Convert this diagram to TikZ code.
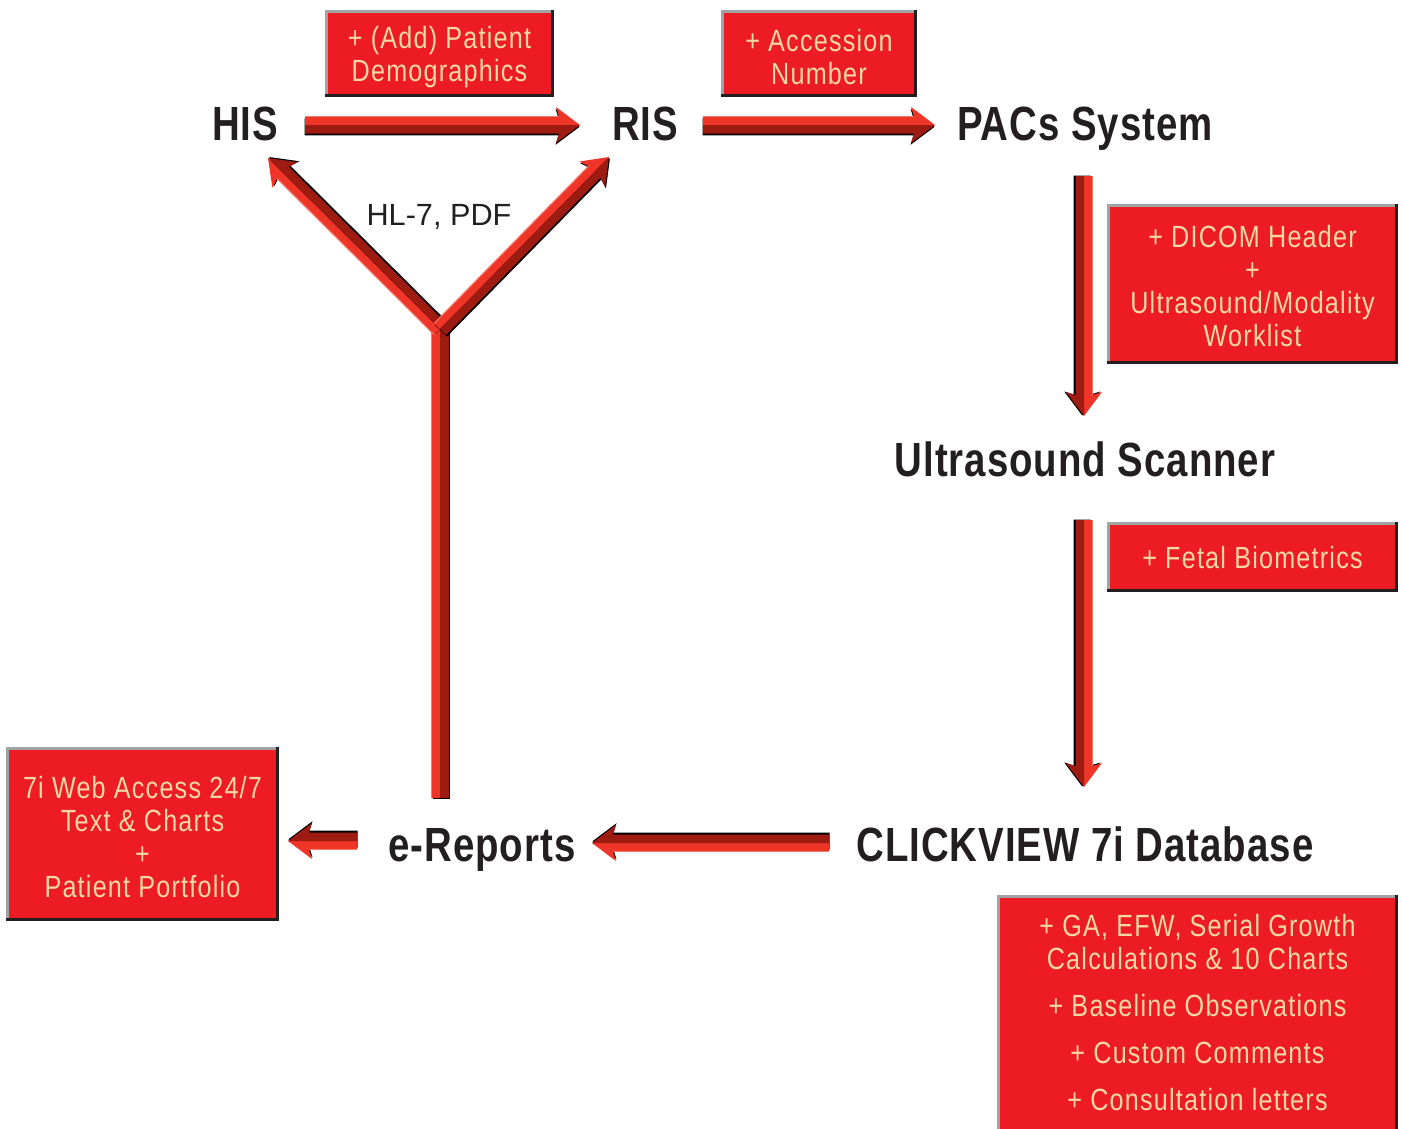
\documentclass[tikz,border=0pt]{standalone}
\usepackage{fontspec}
\setmainfont{Liberation Sans}
\newfontfamily\condfont[FakeStretch=0.82,LetterSpace=4]{Liberation Sans}
\newfontfamily\condtitle[FakeStretch=0.8,LetterSpace=2]{Liberation Sans}
\definecolor{boxred}{HTML}{ED1C24}
\definecolor{cream}{HTML}{F4D8A4}
\definecolor{alight}{HTML}{EE3527}
\definecolor{adark}{HTML}{9E1B12}
\definecolor{ahigh}{HTML}{F37A68}
\definecolor{ink}{HTML}{231F20}
\definecolor{bgray}{HTML}{A0A2A4}
\definecolor{bdark}{HTML}{231F20}

% 3D arrow with head, from coordinate #1 to coordinate #2
\newcommand\tdarrow[2]{%
  \path (#1); \pgfgetlastxy{\arax}{\aray}%
  \path (#2); \pgfgetlastxy{\arbx}{\arby}%
  \pgfmathsetmacro\arang{atan2(\arby-\aray,\arbx-\arax)}%
  \pgfmathsetmacro\arlen{veclen(\arbx-\arax,\arby-\aray)/0.75}%
  \pgfmathsetmacro\arb{\arlen-24}%
  \pgfmathsetmacro\arc{\arlen-21}%
  \begin{scope}[shift={(#1)},rotate=\arang,x=0.75pt,y=0.75pt]
    \fill[black] (-0.5,6.7) -- (\arc-0.5,6.7) -- (\arb-0.5,16.2) -- (\arlen-0.5,-1.8)
      -- (\arb-0.5,-19.8) -- (\arc-0.5,-10.3) -- (-0.5,-10.3) -- cycle;
    \fill[alight] (0,0) -- (0,8.5) -- (\arc,8.5) -- (\arb,18) -- (\arlen,0) -- cycle;
    \fill[adark] (0,0) -- (0,-8.5) -- (\arc,-8.5) -- (\arb,-18) -- (\arlen,0) -- cycle;
    \draw[ahigh,line width=0.75pt] (0,8.1) -- (\arc,8.1);
  \end{scope}}
% 3D shaft without head
\newcommand\tdshaft[2]{%
  \path (#1); \pgfgetlastxy{\arax}{\aray}%
  \path (#2); \pgfgetlastxy{\arbx}{\arby}%
  \pgfmathsetmacro\arang{atan2(\arby-\aray,\arbx-\arax)}%
  \pgfmathsetmacro\arlen{veclen(\arbx-\arax,\arby-\aray)/0.75}%
  \begin{scope}[shift={(#1)},rotate=\arang,x=0.75pt,y=0.75pt]
    \fill[black] (-0.5,6.7) rectangle (\arlen-0.5,-10.3);
    \fill[alight] (0,0) rectangle (\arlen,8.5);
    \fill[adark] (0,0) rectangle (\arlen,-8.5);
    \draw[ahigh,line width=0.75pt] (0,8.1) -- (\arlen,8.1);
  \end{scope}}
% bevelled border of a red box
\newcommand\bevel[1]{%
  \draw[bgray,line width=2.25pt] ([xshift=1.125pt]#1.south west)
    -- ([xshift=1.125pt,yshift=-1.125pt]#1.north west) -- ([yshift=-1.125pt]#1.north east);
  \draw[bdark,line width=2.25pt] ([xshift=-1.125pt]#1.north east)
    -- ([xshift=-1.125pt,yshift=1.125pt]#1.south east) -- ([yshift=1.125pt]#1.south west);}

\begin{document}
\begin{tikzpicture}[x=0.75pt,y=-0.75pt,
  title/.style={font=\condtitle\bfseries\fontsize{36}{40}\selectfont, text=ink, inner sep=0pt, anchor=base},
  redbox/.style={fill=boxred, inner sep=0pt},
  boxtext/.style={inner sep=0pt, text=cream, align=center,
    font=\condfont\fontsize{23}{24.75}\selectfont},
  bsize/.style 2 args={minimum width={#1*0.75pt}, minimum height={#2*0.75pt}}]
\useasboundingbox (0,0) rectangle (1402,1128);
\clip (0,0) rectangle (1402,1128);

% titles
\node[title] (his)  at (245,140)  {HIS};
\node[title] (ris)  at (645,140)  {RIS};
\node[title] (pacs) at (1085,140) {PACs System};
\node[title] (us)   at (1085,476) {Ultrasound Scanner};
\node[title] (cv)   at (1085,861) {CLICKVIEW 7i Database};
\node[title] (erep) at (482,861)  {e-Reports};
\node[font=\fontsize{23}{27}\selectfont, text=ink, inner sep=0pt] (hl7) at (439,217) {HL-7, PDF};

% boxes
\node[redbox, bsize={229}{87}] (bdemo) at (439.5,53.5) {};
\bevel{bdemo}
\node[boxtext] (tdemo) at (439.5,57) {+ (Add) Patient\\Demographics};
\node[redbox, bsize={196}{87}] (bacc) at (819,53.5) {};
\bevel{bacc}
\node[boxtext] (tacc) at (819,57) {+ Accession\\Number};
\node[redbox, bsize={291}{160}] (bdicom) at (1252.5,284) {};
\bevel{bdicom}
\node[boxtext] (tdicom) at (1252.5,286) {+ DICOM Header\\+\\Ultrasound/Modality\\Worklist};
\node[redbox, bsize={291}{70}] (bfetal) at (1252.5,557) {};
\bevel{bfetal}
\node[boxtext] (tfetal) at (1252.5,558) {+ Fetal Biometrics};
\node[redbox, bsize={273}{174}] (bweb) at (142.5,834) {};
\bevel{bweb}
\node[boxtext] (tweb) at (142.5,837) {7i Web Access 24/7\\Text \& Charts\\+\\Patient Portfolio};
\node[redbox, bsize={401}{245}] (bga) at (1197.5,1017.5) {};
\bevel{bga}
\node[boxtext] (tga) at (1197.5,1012.5) {+ GA, EFW, Serial Growth\\Calculations \& 10 Charts\\[10.5pt]+ Baseline Observations\\[10.5pt]+ Custom Comments\\[10.5pt]+ Consultation letters};

% arrow end points
\coordinate (a1s) at (305,125);  \coordinate (a1e) at (580,125);
\coordinate (a2s) at (703,125);  \coordinate (a2e) at (935,125);
\coordinate (a3s) at (1084,176); \coordinate (a3e) at (1084,416);
\coordinate (a4s) at (1084,520); \coordinate (a4e) at (1084,787);
\coordinate (a5s) at (829,843);  \coordinate (a5e) at (592,843);
\coordinate (a6s) at (357,841);  \coordinate (a6e) at (288,841);
\coordinate (ys) at (440,798);   \coordinate (yt) at (440,326);
\coordinate (yj) at (440,329);
\coordinate (yl) at (268,158);   \coordinate (yr) at (609,157);

\tdarrow{a1s}{a1e}
\tdarrow{a2s}{a2e}
\tdarrow{a3s}{a3e}
\tdarrow{a4s}{a4e}
\tdarrow{a5s}{a5e}
\tdarrow{a6s}{a6e}
\tdshaft{ys}{yt}
\tdarrow{yj}{yl}
\tdarrow{yj}{yr}
\end{tikzpicture}
\end{document}
